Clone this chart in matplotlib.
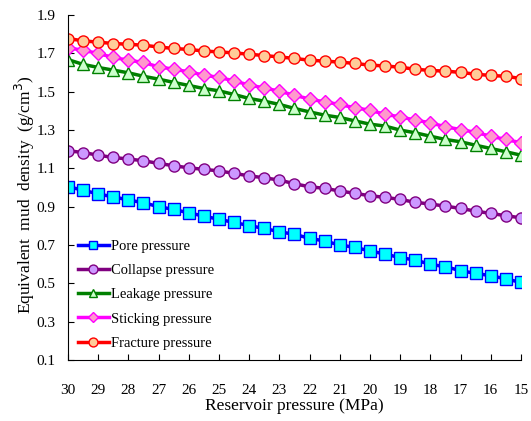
import numpy as np
import matplotlib
matplotlib.use("Agg")
import matplotlib.pyplot as plt

# reservoir pressure, MPa (30 -> 15, step 0.5)
pressure = [30 - 0.5 * i for i in range(31)]

pore = [1.004, 0.987, 0.966, 0.952, 0.935, 0.921, 0.900, 0.886, 0.868, 0.851,
        0.834, 0.818, 0.801, 0.787, 0.769, 0.756, 0.735, 0.721, 0.700, 0.688,
        0.669, 0.653, 0.634, 0.622, 0.599, 0.587, 0.566, 0.552, 0.540, 0.523,
        0.505]
collapse = [1.192, 1.183, 1.169, 1.157, 1.149, 1.140, 1.126, 1.114, 1.103, 1.095,
            1.087, 1.074, 1.061, 1.051, 1.039, 1.020, 1.004, 0.996, 0.982, 0.970,
            0.957, 0.949, 0.938, 0.923, 0.914, 0.903, 0.891, 0.877, 0.865, 0.853,
            0.842]
leakage = [1.668, 1.643, 1.627, 1.613, 1.599, 1.581, 1.566, 1.549, 1.533, 1.517,
           1.505, 1.486, 1.465, 1.451, 1.434, 1.413, 1.395, 1.378, 1.366, 1.348,
           1.331, 1.321, 1.300, 1.286, 1.268, 1.251, 1.239, 1.221, 1.204, 1.187,
           1.169]
sticking = [1.729, 1.717, 1.700, 1.679, 1.665, 1.653, 1.630, 1.618, 1.604, 1.587,
            1.575, 1.557, 1.535, 1.520, 1.503, 1.482, 1.462, 1.447, 1.434, 1.416,
            1.404, 1.382, 1.369, 1.352, 1.338, 1.317, 1.303, 1.288, 1.268, 1.251,
            1.234]
fracture = [1.778, 1.766, 1.759, 1.752, 1.748, 1.743, 1.734, 1.726, 1.721, 1.713,
            1.708, 1.703, 1.696, 1.689, 1.682, 1.674, 1.665, 1.660, 1.655, 1.648,
            1.639, 1.635, 1.628, 1.618, 1.611, 1.608, 1.601, 1.592, 1.585, 1.581,
            1.569]

labels = ["Pore pressure", "Collapse pressure", "Leakage pressure",
          "Sticking pressure", "Fracture pressure"]
xticks = list(range(30, 14, -1))
yticks = [0.1, 0.3, 0.5, 0.7, 0.9, 1.1, 1.3, 1.5, 1.7, 1.9]

plt.rcParams['font.family'] = ['Liberation Serif', 'DejaVu Serif']

fig = plt.figure(figsize=(5.31, 4.21), dpi=100)
ax = fig.add_axes([0.128, 0.145, 0.853, 0.819])

# (line colour, marker, face colour)
styles = [
    ("#0000FF", "s", "#00FFFF"),
    ("#800080", "o", "#CC99FF"),
    ("#008000", "^", "#CCFFCC"),
    ("#FF00FF", "D", "#FF99CC"),
    ("#FF0000", "o", "#FFCC99"),
]
series = [pore, collapse, leakage, sticking, fracture]
for ys, (lc, mk, fc), lab in zip(series, styles, labels):
    ms = 7 if mk == "D" else 8
    ax.plot(pressure, ys, color=lc, lw=2.5, marker=mk, ms=ms,
            mfc=fc, mec=lc, mew=1.0, label=lab)

ax.set_xlim(30, 15)
ax.set_ylim(0.1, 1.9)
ax.set_xticks(xticks)
ax.set_yticks(yticks)
ax.set_yticklabels([f"{v:.1f}" for v in yticks])
ax.tick_params(direction='in', labelsize=11, length=4)
ax.tick_params(axis='x', pad=17)
ax.tick_params(axis='y', pad=9)
ax.spines['top'].set_visible(False)
ax.spines['right'].set_visible(False)

ax.set_xlabel("Reservoir pressure (MPa)", fontsize=12.5, labelpad=1)
ax.set_ylabel("Equivalent  mud  density  (g/cm$^3$)", fontsize=12.5)
ax.yaxis.set_label_coords(-0.068, 0.48)

ax.legend(loc='lower left', frameon=False, fontsize=10.5, handlelength=2.1,
          handletextpad=0.15, labelspacing=0.75, borderaxespad=0.3,
          markerscale=0.8)

fig.savefig("out.png", dpi=100)
